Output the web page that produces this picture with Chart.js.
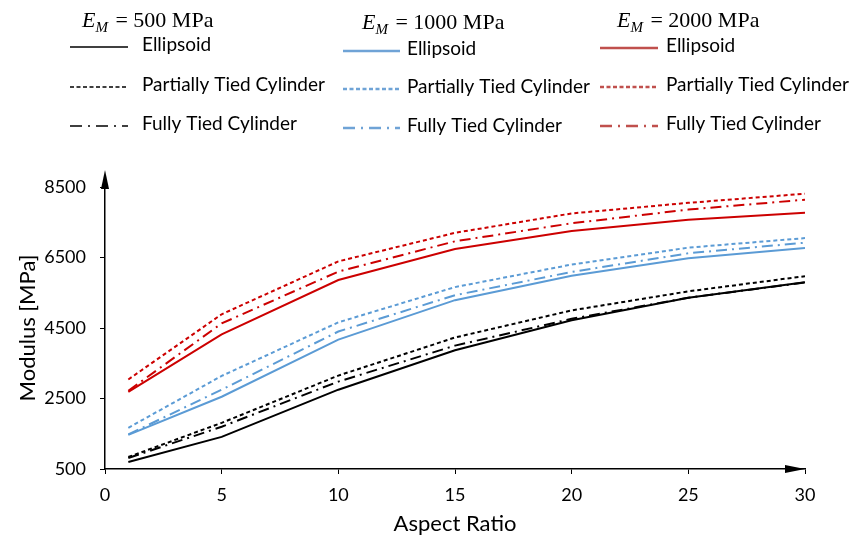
<!DOCTYPE html>
<html>
<head>
<meta charset="utf-8">
<script src="https://cdn.jsdelivr.net/npm/chart.js@4/dist/chart.umd.min.js"></script>
<style>
  html, body { margin: 0; padding: 0; background: #fff; }
  #wrap { width: 861px; height: 541px; position: relative; }
</style>
</head>
<body>
<div id="wrap"><canvas id="c" width="861" height="541"></canvas></div>
<script>
// ---- data ----
const aspectRatios = [1, 5, 10, 15, 20, 25, 30];
const xTickValues = [0, 5, 10, 15, 20, 25, 30];
const yTickValues = [500, 2500, 4500, 6500, 8500];

const ellipsoid500   = [700, 1410, 2750, 3870, 4720, 5360, 5800];
const partial500     = [840, 1810, 3150, 4230, 5000, 5540, 5970];
const fully500       = [810, 1700, 2980, 4000, 4760, 5360, 5790];

const ellipsoid1000  = [1470, 2550, 4170, 5290, 5980, 6480, 6770];
const partial1000    = [1670, 3140, 4660, 5660, 6300, 6780, 7050];
const fully1000      = [1480, 2750, 4400, 5430, 6090, 6620, 6920];

const ellipsoid2000  = [2690, 4320, 5860, 6740, 7250, 7570, 7770];
const partial2000    = [3040, 4890, 6390, 7200, 7750, 8050, 8310];
const fully2000      = [2720, 4630, 6100, 6960, 7470, 7860, 8140];

const groupLabels = ['500', '1000', '2000'];
const typeLabels = ['Ellipsoid', 'Partially Tied Cylinder', 'Fully Tied Cylinder'];

// ---- styles ----
const BLACK = '#000000', BLUE = '#5B9BD5', RED = '#CC0000';
const DASH = [4, 3], DASHDOT = [11, 5, 2, 5];
const FONT = 'Lato';

function pts(arr) { return arr.map((v, i) => ({ x: aspectRatios[i], y: v })); }
function ds(label, arr, color, dash) {
  return { label, data: pts(arr), borderColor: color, backgroundColor: color,
    borderWidth: 2, borderDash: dash, pointRadius: 0, tension: 0, fill: false };
}

const datasets = [
  ds('500 Ellipsoid', ellipsoid500, BLACK, []),
  ds('500 Partially', partial500, BLACK, DASH),
  ds('500 Fully', fully500, BLACK, DASHDOT),
  ds('1000 Ellipsoid', ellipsoid1000, BLUE, []),
  ds('1000 Partially', partial1000, BLUE, DASH),
  ds('1000 Fully', fully1000, BLUE, DASHDOT),
  ds('2000 Ellipsoid', ellipsoid2000, RED, []),
  ds('2000 Partially', partial2000, RED, DASH),
  ds('2000 Fully', fully2000, RED, DASHDOT),
];

// legend layout (header position, sample line, text start, row ys)
const legendCols = [
  { hx: 82,  hy: 27, lx0: 70,  lx1: 128, tx: 142, rows: [47, 87, 126], color: BLACK, lw: 1.6 },
  { hx: 362, hy: 29, lx0: 343, lx1: 400, tx: 407, rows: [51, 89, 128], color: '#6FA3D6', lw: 2.6 },
  { hx: 617, hy: 27, lx0: 600, lx1: 658, tx: 666, rows: [48, 87, 126], color: '#C0504D', lw: 2.6 },
];
const legendDashes = [[], [4, 2.5], [12, 6, 2, 6]];

const legendPlugin = {
  id: 'customLegend',
  afterDraw(chart) {
    const ctx = chart.ctx;
    ctx.save();
    legendCols.forEach((col, ci) => {
      // header
      ctx.fillStyle = '#000';
      ctx.textBaseline = 'alphabetic';
      ctx.textAlign = 'left';
      let x = col.hx;
      ctx.font = 'italic 22px "Liberation Serif"';
      ctx.fillText('E', x, col.hy);
      x += ctx.measureText('E').width;
      ctx.font = 'italic 15px "Liberation Serif"';
      ctx.fillText('M', x, col.hy + 5);
      x += ctx.measureText('M').width;
      ctx.font = '22px "Liberation Serif"';
      ctx.fillText(' = ' + groupLabels[ci] + ' MPa', x + 2, col.hy);
      // rows
      col.rows.forEach((ry, ri) => {
        ctx.beginPath();
        ctx.strokeStyle = col.color;
        ctx.lineWidth = col.lw;
        ctx.setLineDash(legendDashes[ri]);
        ctx.moveTo(col.lx0, ry);
        ctx.lineTo(col.lx1, ry);
        ctx.stroke();
        ctx.setLineDash([]);
        ctx.fillStyle = '#000';
        ctx.font = '19px ' + FONT;
        ctx.textBaseline = 'middle';
        ctx.fillText(typeLabels[ri], col.tx, ry - 2);
      });
    });
    ctx.restore();
  }
};

const arrowPlugin = {
  id: 'axisArrows',
  afterDraw(chart) {
    const ctx = chart.ctx;
    const a = chart.chartArea;
    ctx.save();
    ctx.strokeStyle = '#000';
    ctx.fillStyle = '#000';
    ctx.lineWidth = 1.5;
    // y axis extension + arrow
    ctx.beginPath();
    ctx.moveTo(a.left, a.top);
    ctx.lineTo(a.left, a.top - 10);
    ctx.stroke();
    ctx.beginPath();
    ctx.moveTo(a.left, a.top - 17);
    ctx.lineTo(a.left - 4, a.top + 2);
    ctx.lineTo(a.left + 4, a.top + 2);
    ctx.closePath();
    ctx.fill();
    // x axis arrow
    ctx.beginPath();
    ctx.moveTo(a.right, a.bottom);
    ctx.lineTo(a.right - 20, a.bottom - 4);
    ctx.lineTo(a.right - 20, a.bottom + 4);
    ctx.closePath();
    ctx.fill();
    ctx.restore();
  }
};

new Chart(document.getElementById('c'), {
  type: 'line',
  data: { datasets },
  options: {
    responsive: false,
    animation: false,
    devicePixelRatio: 1,
    layout: { padding: { top: 187, right: 56, bottom: 0, left: 0 } },
    plugins: { legend: { display: false }, tooltip: { enabled: false } },
    scales: {
      x: {
        type: 'linear', min: 0, max: 30,
        afterFit(s) { s.height = 72; },
        afterBuildTicks(s) { s.ticks = xTickValues.map(v => ({ value: v })); },
        grid: { display: true, drawOnChartArea: false, drawTicks: true, tickLength: 5, color: '#000', lineWidth: 1 },
        border: { display: true, color: '#000', width: 1.5 },
        ticks: { color: '#000', font: { family: FONT, size: 18 }, padding: 10, maxRotation: 0,
                 callback: v => String(v) },
        title: { display: true, text: 'Aspect Ratio', color: '#000', font: { family: FONT, size: 22 }, padding: { top: 0, bottom: 4 } }
      },
      y: {
        type: 'linear', min: 500, max: 8500,
        afterFit(s) { s.width = 105; },
        afterBuildTicks(s) { s.ticks = yTickValues.map(v => ({ value: v })); },
        grid: { display: true, drawOnChartArea: false, drawTicks: true, tickLength: 5, color: '#000', lineWidth: 1 },
        border: { display: true, color: '#000', width: 1.5 },
        ticks: { color: '#000', font: { family: FONT, size: 18 }, padding: 14,
                 callback: v => String(v) },
        title: { display: true, text: 'Modulus [MPa]', color: '#000', font: { family: FONT, size: 22 }, padding: { top: 15, bottom: 0 } }
      }
    }
  },
  plugins: [legendPlugin, arrowPlugin]
});
</script>
</body>
</html>
